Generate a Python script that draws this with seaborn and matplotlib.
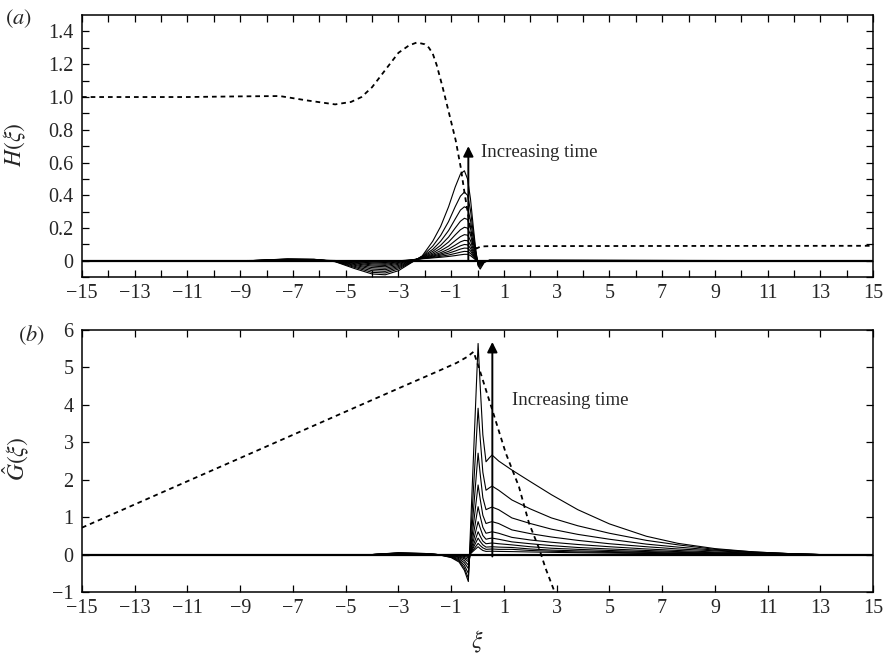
import numpy as np
import pandas as pd
import matplotlib
matplotlib.use("Agg")
import matplotlib.pyplot as plt
import seaborn as sns


# DATA

# panel (a): H(xi), one list per time level (largest first)
xi_a = [-15, -8.5, -7.2, -6.2, -5.4, -4.7, -4.0, -3.5, -3.0, -2.5, -2.1, -1.7, -1.4,
        -1.1, -0.85, -0.65, -0.5, -0.38, -0.27, -0.17, -0.07, 0.02, 0.1, 0.25, 0.45, 15]
h1 = [0, 0.002, 0.012, 0.01, -0.005, -0.045, -0.08, -0.085, -0.06, -0.01, 0.03, 0.12, 0.21,
      0.33, 0.45, 0.53, 0.55, 0.50, 0.38, 0.22, 0.07, -0.03, -0.05, -0.01, 0.005, 0]
h2 = [0, 0.002, 0.011, 0.009, -0.004, -0.038, -0.07, -0.074, -0.05, -0.008, 0.028, 0.09, 0.155,
      0.24, 0.33, 0.395, 0.42, 0.40, 0.31, 0.18, 0.06, -0.025, -0.04, -0.008, 0.004, 0]
h3 = [0, 0.002, 0.01, 0.008, -0.003, -0.032, -0.06, -0.064, -0.042, -0.006, 0.026, 0.07, 0.12,
      0.185, 0.255, 0.31, 0.33, 0.32, 0.25, 0.145, 0.05, -0.02, -0.032, -0.006, 0.003, 0]
h4 = [0, 0.002, 0.009, 0.007, -0.002, -0.026, -0.05, -0.054, -0.035, -0.004, 0.024, 0.058, 0.095,
      0.145, 0.2, 0.242, 0.26, 0.253, 0.2, 0.115, 0.04, -0.016, -0.025, -0.005, 0.002, 0]
h5 = [0, 0.001, 0.008, 0.006, -0.001, -0.021, -0.041, -0.045, -0.028, -0.002, 0.022, 0.048, 0.077,
      0.115, 0.158, 0.19, 0.205, 0.2, 0.16, 0.092, 0.032, -0.012, -0.02, -0.004, 0.002, 0]
h6 = [0, 0.001, 0.007, 0.005, 0, -0.016, -0.032, -0.036, -0.021, 0, 0.02, 0.04, 0.062,
      0.09, 0.123, 0.148, 0.16, 0.157, 0.125, 0.072, 0.025, -0.01, -0.016, -0.003, 0.001, 0]
h7 = [0, 0.001, 0.006, 0.005, 0.001, -0.012, -0.025, -0.028, -0.015, 0.002, 0.018, 0.034, 0.05,
      0.072, 0.096, 0.116, 0.125, 0.123, 0.098, 0.057, 0.02, -0.008, -0.012, -0.002, 0.001, 0]
h8 = [0, 0.001, 0.005, 0.004, 0.001, -0.008, -0.018, -0.021, -0.01, 0.004, 0.016, 0.029, 0.042,
      0.058, 0.077, 0.092, 0.10, 0.098, 0.078, 0.045, 0.016, -0.006, -0.01, -0.002, 0, 0]
h9 = [0, 0.001, 0.004, 0.004, 0.002, -0.005, -0.012, -0.015, -0.006, 0.005, 0.015, 0.025, 0.035,
      0.047, 0.06, 0.072, 0.078, 0.077, 0.061, 0.036, 0.012, -0.005, -0.008, -0.001, 0, 0]
h10 = [0, 0, 0.003, 0.003, 0.002, -0.002, -0.007, -0.01, -0.003, 0.006, 0.014, 0.021, 0.028,
       0.036, 0.045, 0.053, 0.058, 0.057, 0.046, 0.027, 0.009, -0.004, -0.006, -0.001, 0, 0]
h11 = [0, 0, 0.002, 0.002, 0.002, 0, -0.003, -0.005, 0, 0.007, 0.013, 0.018, 0.022,
       0.027, 0.032, 0.037, 0.04, 0.04, 0.032, 0.019, 0.006, -0.003, -0.004, 0, 0, 0]

# panel (a) dashed curve
xi_da = [-15, -11, -9, -7.5, -6.5, -5.4, -4.8, -4.4, -4.0, -3.5, -3.0, -2.6, -2.3, -2.0,
         -1.85, -1.7, -1.55, -1.33, -1.08, -0.83, -0.64, -0.49, -0.32, -0.17, -0.05, 0.12, 0.5, 15]
h_dash = [1.0, 1.0, 1.004, 1.006, 0.98, 0.955, 0.97, 1.0, 1.06, 1.165, 1.27, 1.315, 1.333, 1.322,
          1.302, 1.265, 1.195, 1.063, 0.9, 0.736, 0.572, 0.41, 0.245, 0.10, 0.075, 0.088, 0.09, 0.092]

# panel (b): G-hat(xi)
xi_b = [-15, -4, -3, -2, -1.5, -1.0, -0.7, -0.5, -0.35, 0.02, 0.1, 0.2, 0.32, 0.44,
        0.55, 0.8, 1.3, 2.0, 2.8, 3.8, 5.0, 6.4, 7.6, 9.0, 10.5, 12.0, 13.0, 15]
g1 = [0, 0, 0.05, 0.03, 0, -0.08, -0.2, -0.42, -0.72, 5.64, 4.5, 3.2, 2.48, 2.58,
      2.66, 2.5, 2.26, 1.95, 1.6, 1.2, 0.82, 0.49, 0.3, 0.16, 0.07, 0.02, 0, 0]
g2 = [0, 0, 0.045, 0.027, 0, -0.07, -0.17, -0.36, -0.63, 3.91, 3.1, 2.2, 1.72, 1.78,
      1.83, 1.72, 1.46, 1.22, 0.98, 0.77, 0.57, 0.38, 0.26, 0.14, 0.07, 0.02, 0, 0]
g3 = [0, 0, 0.04, 0.024, 0, -0.06, -0.14, -0.29, -0.5, 2.71, 2.15, 1.52, 1.2, 1.24,
      1.27, 1.2, 0.98, 0.83, 0.68, 0.54, 0.41, 0.28, 0.2, 0.12, 0.06, 0.02, 0, 0]
g4 = [0, 0, 0.035, 0.021, 0, -0.05, -0.11, -0.22, -0.37, 1.86, 1.48, 1.05, 0.83, 0.86,
      0.88, 0.83, 0.66, 0.56, 0.47, 0.38, 0.29, 0.21, 0.15, 0.1, 0.05, 0.02, 0, 0]
g5 = [0, 0, 0.03, 0.018, 0, -0.04, -0.08, -0.16, -0.28, 1.28, 1.02, 0.73, 0.57, 0.59,
      0.61, 0.57, 0.46, 0.39, 0.33, 0.27, 0.21, 0.15, 0.11, 0.07, 0.04, 0.01, 0, 0]
g6 = [0, 0, 0.025, 0.015, 0, -0.03, -0.06, -0.11, -0.19, 0.88, 0.71, 0.51, 0.41, 0.43,
      0.44, 0.41, 0.34, 0.29, 0.24, 0.19, 0.15, 0.11, 0.08, 0.05, 0.03, 0.01, 0, 0]
g7 = [0, 0, 0.02, 0.012, 0, -0.02, -0.04, -0.08, -0.13, 0.61, 0.49, 0.36, 0.29, 0.3,
      0.31, 0.29, 0.26, 0.21, 0.17, 0.14, 0.11, 0.08, 0.06, 0.04, 0.02, 0.01, 0, 0]
g8 = [0, 0, 0.015, 0.009, 0, -0.015, -0.03, -0.05, -0.08, 0.44, 0.35, 0.26, 0.2, 0.205,
      0.21, 0.2, 0.19, 0.15, 0.12, 0.1, 0.08, 0.06, 0.04, 0.03, 0.015, 0.005, 0, 0]
g9 = [0, 0, 0.01, 0.006, 0, -0.01, -0.02, -0.03, -0.05, 0.30, 0.24, 0.18, 0.14, 0.145,
      0.15, 0.14, 0.14, 0.11, 0.09, 0.07, 0.06, 0.04, 0.03, 0.02, 0.01, 0, 0, 0]
g10 = [0, 0, 0.005, 0.003, 0, -0.005, -0.01, -0.015, -0.025, 0.21, 0.16, 0.11, 0.085, 0.088,
       0.09, 0.085, 0.08, 0.07, 0.06, 0.05, 0.04, 0.03, 0.02, 0.01, 0.005, 0, 0, 0]

# panel (b) dashed curve
xi_db = [-15, -10, -6, -3, -1.5, -0.8, -0.4, -0.15, 0.12, 0.56, 1.07, 1.57, 1.95, 2.33, 2.58, 2.95]
g_dash = [0.72, 2.27, 3.51, 4.44, 4.9, 5.12, 5.28, 5.42, 4.84, 3.86, 2.71, 1.81, 0.84, 0.17, -0.37, -1.05]

# arrows: (xi, start, end) and label anchors
arrow_a = (-0.35, 0.0, 0.70)
text_a = (0.12, 0.66)
arrow_b = (0.56, -0.05, 5.68)
text_b = (1.3, 4.13)


# STYLE
sns.set_theme(style="ticks")
plt.rcParams["font.family"] = ["Liberation Serif", "DejaVu Serif"]
plt.rcParams["mathtext.fontset"] = "stix"
plt.rcParams["axes.linewidth"] = 1.0


def to_long(xi, curves, name):
    frames = [pd.DataFrame({"xi": xi, name: c, "curve": i}) for i, c in enumerate(curves)]
    return pd.concat(frames, ignore_index=True)


df_a = to_long(xi_a, [h1, h2, h3, h4, h5, h6, h7, h8, h9, h10, h11], "H")
df_b = to_long(xi_b, [g1, g2, g3, g4, g5, g6, g7, g8, g9, g10], "G")

fig = plt.figure(figsize=(8.89, 6.57), dpi=100)
ax1 = fig.add_axes([0.0922, 0.578, 0.890, 0.399])
ax2 = fig.add_axes([0.0922, 0.0989, 0.890, 0.3988])

# zero level drawn thick like the overlapping baseline
for ax in (ax1, ax2):
    ax.axhline(0, color="black", lw=1.6, zorder=1)

sns.lineplot(data=df_a, x="xi", y="H", units="curve", estimator=None,
             color="black", lw=0.8, ax=ax1, legend=False)
sns.lineplot(x=xi_da, y=h_dash, color="black", lw=1.3,
             linestyle=(0, (2.6, 2.2)), ax=ax1)

sns.lineplot(data=df_b, x="xi", y="G", units="curve", estimator=None,
             color="black", lw=0.8, ax=ax2, legend=False)
sns.lineplot(x=xi_db, y=g_dash, color="black", lw=1.3,
             linestyle=(0, (2.6, 2.2)), ax=ax2)

# arrows and text
for ax, arr, txt in ((ax1, arrow_a, text_a), (ax2, arrow_b, text_b)):
    ax.annotate("", xy=(arr[0], arr[2]), xytext=(arr[0], arr[1]),
                arrowprops=dict(arrowstyle="-|>", color="black", lw=1.4,
                                mutation_scale=15, shrinkA=0, shrinkB=0))
    ax.text(txt[0], txt[1], "Increasing time", fontsize=13.5, va="center", ha="left")

# axes limits and ticks
ax1.set_xlim(-15, 15)
ax1.set_ylim(-0.1, 1.5)
ax1.set_xticks(np.arange(-15, 16, 2))
ax1.set_xticks(np.arange(-14, 15, 2), minor=True)
ax1.set_yticks(np.arange(0, 1.41, 0.2))
ax1.set_yticks(np.arange(-0.1, 1.41, 0.2), minor=True)
ax1.yaxis.set_major_formatter(plt.FuncFormatter(lambda v, p: "0" if abs(v) < 1e-9 else f"{v:.1f}"))

ax2.set_xlim(-15, 15)
ax2.set_ylim(-1, 6)
ax2.set_xticks(np.arange(-15, 16, 2))
ax2.set_yticks(np.arange(-1, 7, 1))

for ax in (ax1, ax2):
    ax.tick_params(which="both", direction="in", top=True, right=True,
                   length=5, width=0.9, labelsize=14.5, color="black")
    ax.tick_params(axis="x", which="both", pad=5)
    ax.tick_params(axis="y", which="both", pad=6)
    for s in ax.spines.values():
        s.set_linewidth(1.1)
        s.set_color("black")

ax1.set_xlabel("")
ax1.set_ylabel(r"$H(\xi)$", fontsize=17)
ax1.yaxis.set_label_coords(-0.068, 0.504)
ax2.set_ylabel(r"$\hat{G}(\xi)$", fontsize=17)
ax2.yaxis.set_label_coords(-0.063, 0.51)
ax2.set_xlabel(r"$\xi$", fontsize=17)
ax2.xaxis.set_label_coords(0.5, -0.14)

fig.text(0.006, 0.972, r"$(a)$", fontsize=16, va="center", ha="left")
fig.text(0.02, 0.49, r"$(b)$", fontsize=16, va="center", ha="left")

plt.savefig("out.png", dpi=100)
